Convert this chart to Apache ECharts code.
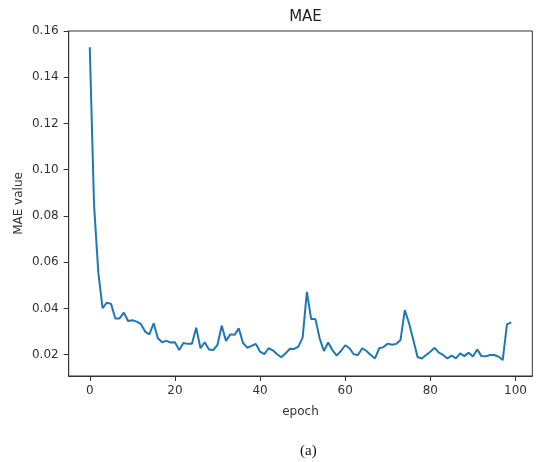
<!DOCTYPE html>
<html>
<head>
<meta charset="utf-8">
<script src="https://cdn.jsdelivr.net/npm/echarts@6/dist/echarts.min.js"></script>
<style>
  html, body { margin: 0; padding: 0; background: #fff; }
  #chart { width: 542px; height: 462px; }
</style>
</head>
<body>
<div id="chart"></div>
<script>
// MAE per epoch
const epochs = Array.from({ length: 100 }, (_, i) => i)
const maeValues = [
  0.153, 0.085, 0.0557, 0.0401, 0.0425, 0.0420, 0.0357, 0.0357, 0.0382, 0.0346,
  0.0349, 0.0343, 0.0333, 0.0300, 0.0288, 0.0336, 0.0271, 0.0254, 0.0260, 0.0253,
  0.0254, 0.0220, 0.0251, 0.0247, 0.0247, 0.0317, 0.0228, 0.0254, 0.0223, 0.0220,
  0.0243, 0.0325, 0.0260, 0.0288, 0.0286, 0.0314, 0.0251, 0.0230, 0.0238, 0.0247,
  0.0213, 0.0203, 0.0228, 0.0219, 0.0202, 0.0189, 0.0206, 0.0226, 0.0225, 0.0235,
  0.0274, 0.0472, 0.0354, 0.0354, 0.0271, 0.0216, 0.0253, 0.0220, 0.0196, 0.0216,
  0.0241, 0.0228, 0.0202, 0.0199, 0.0228, 0.0216, 0.0199, 0.0184, 0.0228, 0.0233,
  0.0248, 0.0243, 0.0247, 0.0264, 0.0393, 0.0336, 0.0264, 0.0190, 0.0184, 0.0199,
  0.0213, 0.0230, 0.0209, 0.0199, 0.0184, 0.0196, 0.0184, 0.0206, 0.0194, 0.0209,
  0.0192, 0.0223, 0.0194, 0.0193, 0.0199, 0.0199, 0.0192, 0.0177, 0.0331, 0.0340
]
const xTicks = [0, 20, 40, 60, 80, 100]
const yTicks = [0.02, 0.04, 0.06, 0.08, 0.10, 0.12, 0.14, 0.16]

const axisColor = '#333'
const textColor = '#333'
const font = 'DejaVu Sans'

const myChart = echarts.init(document.getElementById('chart'))
const option = {
  animation: false,
  title: {
    text: 'MAE',
    left: 300.5,
    textAlign: 'center',
    top: 5,
    textStyle: { fontFamily: font, fontSize: 15, fontWeight: 'normal', color: '#222' }
  },
  grid: {
    left: 68.7,
    right: 9.7,
    top: 31,
    bottom: 86,
    show: true,
    borderColor: axisColor,
    borderWidth: 1
  },
  xAxis: {
    type: 'value',
    min: -4.95,
    max: 103.95,
    name: 'epoch',
    nameLocation: 'middle',
    nameGap: 30,
    nameMoveOverlap: false,
    nameTextStyle: { fontFamily: font, fontSize: 12, color: textColor },
    splitLine: { show: false },
    axisLine: { show: true, onZero: false, lineStyle: { color: axisColor } },
    axisTick: { show: true, length: 5, customValues: xTicks, lineStyle: { color: axisColor } },
    axisLabel: {
      customValues: xTicks,
      margin: 9,
      fontFamily: font,
      fontSize: 12,
      color: textColor
    }
  },
  yAxis: {
    type: 'value',
    min: 0.0108,
    max: 0.16,
    name: 'MAE value',
    nameLocation: 'middle',
    nameGap: 44,
    nameMoveOverlap: false,
    nameTextStyle: { fontFamily: font, fontSize: 12, color: textColor },
    splitLine: { show: false },
    axisLine: { show: true, onZero: false, lineStyle: { color: axisColor } },
    axisTick: { show: true, length: 5, customValues: yTicks, lineStyle: { color: axisColor } },
    axisLabel: {
      customValues: yTicks,
      margin: 10,
      fontFamily: font,
      fontSize: 12,
      color: textColor,
      formatter(val) {
        return val.toFixed(2)
      }
    }
  },
  graphic: [{
    type: 'text',
    left: 300,
    top: 444,
    style: {
      text: '(a)',
      fontFamily: 'Liberation Serif',
      fontSize: 15,
      fill: '#111',
      textAlign: 'center'
    }
  }],
  series: [{
    type: 'line',
    data: epochs.map((e, i) => [e, maeValues[i]]),
    showSymbol: false,
    lineStyle: { color: '#1f77b4', width: 2 },
    itemStyle: { color: '#1f77b4' }
  }]
}
myChart.setOption(option)
</script>
</body>
</html>
